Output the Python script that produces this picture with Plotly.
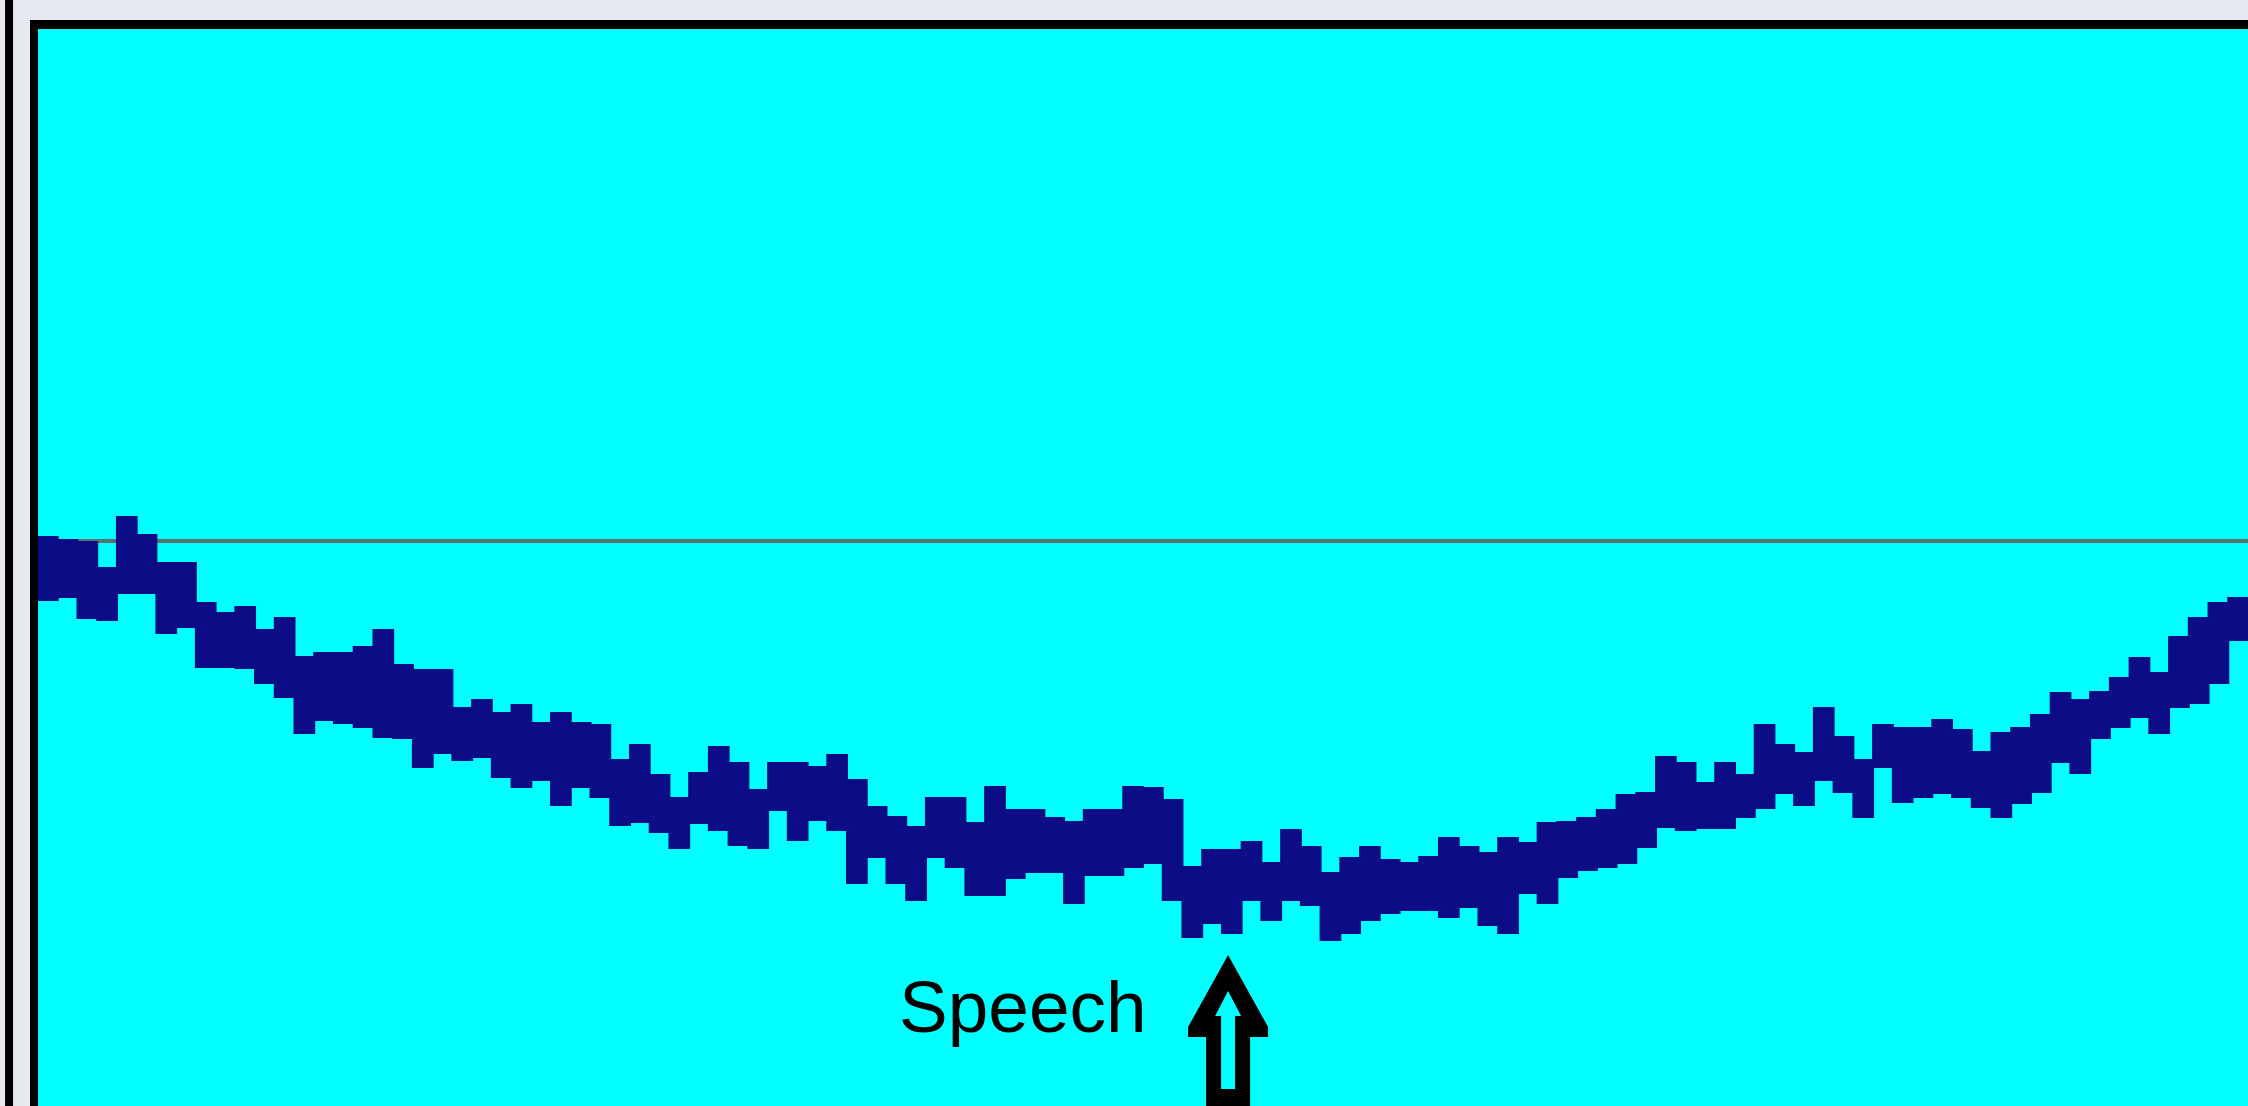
import plotly.graph_objects as go

# Waveform envelope: per-block maximum and minimum amplitude (112 blocks)
block_max = [
    4, 1, -1, -27, 24, 6, -22, -22, -62, -72, -66, -89, -77, -116, -112, -112,
    -106, -89, -124, -129, -129, -167, -159, -172, -164, -182, -172, -182,
    -184, -219, -204, -234, -257, -232, -206, -222, -249, -222, -222, -226,
    -214, -239, -266, -276, -286, -257, -257, -282, -246, -269, -269, -277,
    -281, -269, -269, -246,
    -247, -259, -326, -309, -309, -301, -322, -289, -306, -332, -317, -306,
    -319, -322, -316, -297, -306, -312, -297, -302, -282, -281, -277, -269,
    -254, -252, -216, -222,
    -242, -222, -234, -184, -204, -212, -167, -196, -219, -184, -187, -187,
    -179, -189, -211, -192, -187, -174, -152, -159, -151, -137, -117, -132,
    -96, -77, -62, -57,
]
block_min = [
    -59, -56, -77, -79, -52, -52, -92, -86, -126, -126, -127, -142, -156,
    -192, -179, -182, -186, -196, -197, -226, -212, -219, -216, -236, -246,
    -239, -264, -246,
    -256, -284, -281, -291, -307, -282, -289, -304, -307, -269, -299, -279,
    -289, -342, -316, -342, -359, -316, -326, -354, -354, -337, -331, -331,
    -362, -334, -334, -326,
    -322, -359, -396, -382, -392, -359, -379, -359, -364, -399, -392, -379,
    -372, -369, -369, -376, -366, -384, -392, -352, -362, -336, -329, -326,
    -322, -306, -286, -289,
    -287, -287, -276, -267, -252, -264, -239, -251, -276, -226, -261, -256,
    -252, -256, -266, -276, -262, -251, -221, -232, -197, -186, -176, -192,
    -166, -162, -142, -99,
]

label_text = "Speech"

n_blocks = len(block_max)
t = list(range(n_blocks + 1))
upper = block_max + [block_max[-1]]
lower = block_min + [block_min[-1]]

navy = "#0c0c86"
cyan = "#00ffff"

fig = go.Figure()
fig.add_trace(go.Scatter(
    x=t, y=lower, mode="lines", line=dict(color=navy, width=2, shape="hv"),
    hoverinfo="skip", showlegend=False,
))
fig.add_trace(go.Scatter(
    x=t, y=upper, mode="lines", line=dict(color=navy, width=2, shape="hv"),
    fill="tonexty", fillcolor=navy, hoverinfo="skip", showlegend=False,
))

# Outer frame bar on the far left of the page
fig.add_shape(type="line", xref="paper", yref="paper",
              x0=-0.0131, x1=-0.0131, y0=-0.05, y1=1.05,
              line=dict(color="black", width=8), layer="above")

# Outlined up arrow under the label (pixel-sized, anchored at its tip)
tip_x, tip_y = 0.5385, 0.1402
outer = "M 0 0 L 40 -72 L 40 -82 L 22 -82 L 22 -152 L -22 -152 L -22 -82 L -40 -82 L -40 -72 Z"
inner = "M 0 -36 L 13 -61 L 7 -61 L 7 -134 L -7 -134 L -7 -61 L -13 -61 Z"
for path, col in ((outer, "black"), (inner, cyan)):
    fig.add_shape(type="path", path=path, xref="paper", yref="paper",
                  xsizemode="pixel", ysizemode="pixel",
                  xanchor=tip_x, yanchor=tip_y,
                  fillcolor=col, line=dict(width=0), layer="above")

fig.add_annotation(text=label_text, xref="paper", yref="paper",
                   x=0.3885, y=0.0922, xanchor="left", yanchor="middle",
                   showarrow=False,
                   font=dict(family="Liberation Sans, Arial, sans-serif",
                             size=73, color="black"))

fig.update_layout(
    width=2248, height=1106,
    margin=dict(l=38, r=0, t=29, b=0, pad=0),
    paper_bgcolor="#e6eaf0", plot_bgcolor=cyan,
    xaxis=dict(range=[0, n_blocks], side="top", showline=True, linewidth=9,
               linecolor="black", showgrid=False, zeroline=False,
               showticklabels=False, ticks="", fixedrange=True),
    yaxis=dict(range=[-565, 512], showline=True, linewidth=8,
               linecolor="black", showgrid=False, zeroline=True,
               zerolinecolor="#5a7272", zerolinewidth=4,
               showticklabels=False, ticks="", fixedrange=True),
    showlegend=False,
)

fig.write_html("out.html", config={"displayModeBar": False})
